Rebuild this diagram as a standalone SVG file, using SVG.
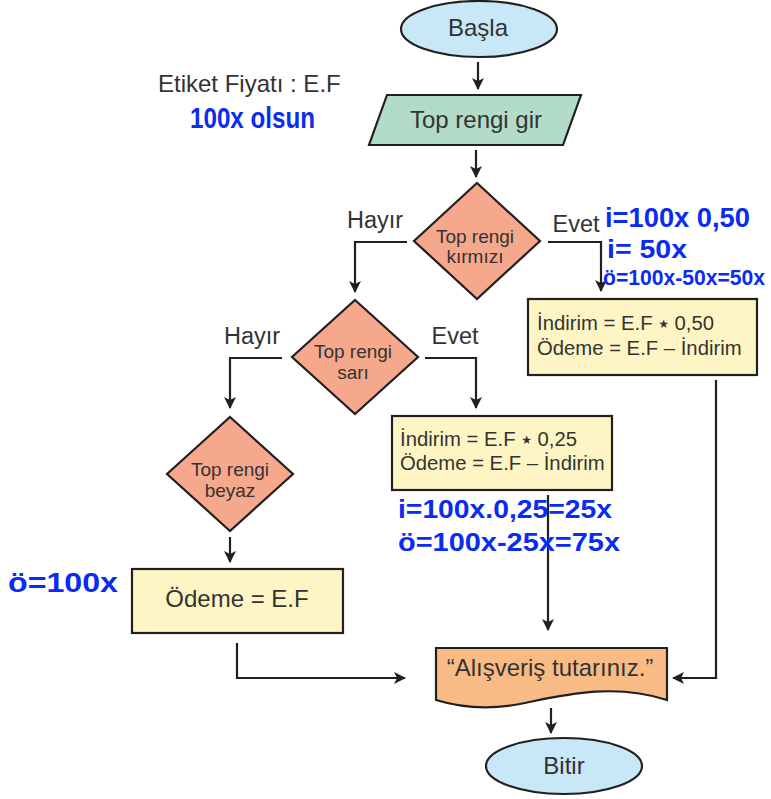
<svg xmlns="http://www.w3.org/2000/svg" width="771" height="799" viewBox="0 0 771 799">
  <defs>
    <marker id="arrow" viewBox="0 0 12 12" refX="11" refY="6" markerWidth="12" markerHeight="12" markerUnits="userSpaceOnUse" orient="auto">
      <path d="M0,0 L12,6 L0,12 L3,6 Z" fill="#231f20"/>
    </marker>
  </defs>
  <style>
    .shape { stroke: #231f20; stroke-width: 2.2; }
    .term { fill: #c8e8f8; }
    .input { fill: #b2dcc8; }
    .dec { fill: #f6a88c; }
    .proc { fill: #fdf6c4; }
    .out { fill: #f8bb86; }
    .t { font-family: "Liberation Sans", Arial, sans-serif; fill: #333333; }
    .big { font-size: 24px; }
    .mid { font-size: 20.3px; }
    .small { font-size: 19px; }
    .lbl { font-size: 23.5px; }
    .star { font-family: "DejaVu Sans", sans-serif; font-size: 12px; }
    .hand { font-family: "Liberation Sans", Arial, sans-serif; font-weight: bold; fill: #0a2cf0; }
    .conn { fill: none; stroke: #231f20; stroke-width: 2.2; }
  </style>

  <rect width="771" height="799" fill="#ffffff"/>

  <!-- connectors -->
  <g id="connectors">
    <path class="conn" d="M478,62 V89" marker-end="url(#arrow)"/>
    <path class="conn" d="M476,150 V177" marker-end="url(#arrow)"/>
    <path class="conn" d="M407,242 H355 V292" marker-end="url(#arrow)"/>
    <path class="conn" d="M548,242 H601 V291" marker-end="url(#arrow)"/>
    <path class="conn" d="M282,358 H230 V408" marker-end="url(#arrow)"/>
    <path class="conn" d="M425,358 H476 V408" marker-end="url(#arrow)"/>
    <path class="conn" d="M230,537 V562" marker-end="url(#arrow)"/>
    <path class="conn" d="M548,495 V630" marker-end="url(#arrow)"/>
    <path class="conn" d="M237,643 V678 H405" marker-end="url(#arrow)"/>
    <path class="conn" d="M716,380 V678 H673" marker-end="url(#arrow)"/>
    <path class="conn" d="M551,708 V733" marker-end="url(#arrow)"/>
    <text class="t lbl" x="375" y="228" text-anchor="middle">Hayır</text>
    <text class="t lbl" x="576" y="232" text-anchor="middle">Evet</text>
    <text class="t lbl" x="252" y="344" text-anchor="middle">Hayır</text>
    <text class="t lbl" x="455" y="344" text-anchor="middle">Evet</text>
  </g>

  <!-- start -->
  <g id="start">
    <ellipse class="shape term" cx="479" cy="29" rx="78" ry="28"/>
    <text class="t big" x="478" y="36" text-anchor="middle">Başla</text>
  </g>

  <!-- price note -->
  <g id="note">
    <text class="t big" x="158" y="92">Etiket Fiyatı : E.F</text>
  </g>

  <!-- input -->
  <g id="input">
    <path class="shape input" d="M387,95 H581 L563,145 H369 Z"/>
    <text class="t big" x="476" y="128" text-anchor="middle">Top rengi gir</text>
  </g>

  <!-- decision: red -->
  <g id="dec-red">
    <path class="shape dec" d="M477,183 L540,241 L477,299 L414,241 Z"/>
    <text class="t small" x="475" y="243" text-anchor="middle">Top rengi</text>
    <text class="t small" x="475" y="263" text-anchor="middle">kırmızı</text>
  </g>

  <!-- process: 50% -->
  <g id="proc-red">
    <rect class="shape proc" x="528" y="299" width="229" height="76"/>
    <text class="t mid" x="537" y="330">İndirim = E.F <tspan class="star" dy="-2">★</tspan><tspan dy="2"> 0,50</tspan></text>
    <text class="t mid" x="537" y="355">Ödeme = E.F – İndirim</text>
  </g>

  <!-- decision: yellow -->
  <g id="dec-yellow">
    <path class="shape dec" d="M355,300 L418,357 L355,414 L292,357 Z"/>
    <text class="t small" x="353" y="358" text-anchor="middle">Top rengi</text>
    <text class="t small" x="353" y="379" text-anchor="middle">sarı</text>
  </g>

  <!-- process: 25% -->
  <g id="proc-yellow">
    <rect class="shape proc" x="392" y="416" width="220" height="74"/>
    <text class="t mid" x="400" y="446">İndirim = E.F <tspan class="star" dy="-2">★</tspan><tspan dy="2"> 0,25</tspan></text>
    <text class="t mid" x="400" y="470">Ödeme = E.F – İndirim</text>
  </g>

  <!-- decision: white -->
  <g id="dec-white">
    <path class="shape dec" d="M230,417 L293,474 L230,531 L167,474 Z"/>
    <text class="t small" x="230" y="476" text-anchor="middle">Top rengi</text>
    <text class="t small" x="230" y="497" text-anchor="middle">beyaz</text>
  </g>

  <!-- process: full price -->
  <g id="proc-white">
    <rect class="shape proc" x="132" y="569" width="211" height="64"/>
    <text class="t big" x="237" y="607" text-anchor="middle">Ödeme = E.F</text>
  </g>

  <!-- output -->
  <g id="output">
    <path class="shape out" d="M436,648 H667 V700 C612,682 560,696 520,704 C488,710 462,708 436,700 Z"/>
    <text class="t big" x="550" y="676" text-anchor="middle">“Alışveriş tutarınız.”</text>
  </g>

  <!-- end -->
  <g id="end">
    <ellipse class="shape term" cx="564" cy="766" rx="78" ry="28"/>
    <text class="t big" x="564" y="774" text-anchor="middle">Bitir</text>
  </g>

  <!-- handwritten working -->
  <g id="notes-hand">
    <text class="hand" x="190" y="128" font-size="30" textLength="125" lengthAdjust="spacingAndGlyphs">100x olsun</text>
    <text class="hand" x="605" y="227" font-size="27" textLength="145" lengthAdjust="spacingAndGlyphs">i=100x 0,50</text>
    <text class="hand" x="607" y="258" font-size="26" textLength="80" lengthAdjust="spacingAndGlyphs">i= 50x</text>
    <text class="hand" x="603" y="285" font-size="22" textLength="162" lengthAdjust="spacingAndGlyphs">ö=100x-50x=50x</text>
    <text class="hand" x="398" y="518" font-size="25" textLength="214" lengthAdjust="spacingAndGlyphs">i=100x.0,25=25x</text>
    <text class="hand" x="398" y="551" font-size="26" textLength="222" lengthAdjust="spacingAndGlyphs">ö=100x-25x=75x</text>
    <text class="hand" x="8" y="592" font-size="27" textLength="110" lengthAdjust="spacingAndGlyphs">ö=100x</text>
  </g>
</svg>
